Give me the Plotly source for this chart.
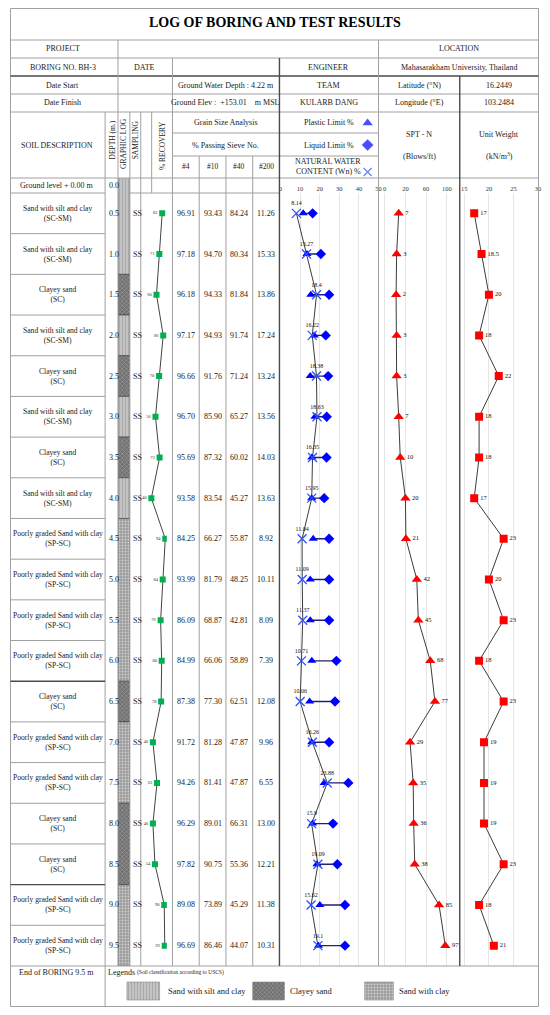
import plotly.graph_objects as go

# page body keeps the browser's 8px margin, so the figure is drawn inside it
FIG_W, FIG_H, OFF = 534, 999, 8
FONT = "Liberation Serif"


def px(x):
    return (x - OFF) / FIG_W


def py(y):
    return 1 - (y - OFF) / FIG_H


# ---- data -----------------------------------------------------------------
depth = [0.5, 1.0, 1.5, 2.0, 2.5, 3.0, 3.5, 4.0, 4.5, 5.0,
         5.5, 6.0, 6.5, 7.0, 7.5, 8.0, 8.5, 9.0, 9.5]
soil_name = ["Sand with silt and clay", "Sand with silt and clay", "Clayey sand",
             "Sand with silt and clay", "Clayey sand", "Sand with silt and clay",
             "Clayey sand", "Sand with silt and clay",
             "Poorly graded Sand with clay", "Poorly graded Sand with clay",
             "Poorly graded Sand with clay", "Poorly graded Sand with clay",
             "Clayey sand", "Poorly graded Sand with clay",
             "Poorly graded Sand with clay", "Clayey sand", "Clayey sand",
             "Poorly graded Sand with clay", "Poorly graded Sand with clay"]
soil_code = ["SC-SM", "SC-SM", "SC", "SC-SM", "SC", "SC-SM", "SC", "SC-SM",
             "SP-SC", "SP-SC", "SP-SC", "SP-SC", "SC", "SP-SC", "SP-SC",
             "SC", "SC", "SP-SC", "SP-SC"]
sampling = ["SS"] * 19
recovery = [82, 71, 60, 86, 70, 56, 72, 40, 94, 84, 76, 80, 78, 46, 62, 46, 54, 90, 92]

sieve_4 = [96.91, 97.18, 96.18, 97.17, 96.66, 96.70, 95.69, 93.58, 84.25, 93.99,
           86.09, 84.99, 87.38, 91.72, 94.26, 96.29, 97.82, 89.08, 96.69]
sieve_10 = [93.43, 94.70, 94.33, 94.93, 91.76, 85.90, 87.32, 83.54, 66.27, 81.79,
            68.87, 66.06, 77.30, 81.28, 81.41, 89.01, 90.75, 73.89, 86.46]
sieve_40 = [84.24, 80.34, 81.84, 91.74, 71.24, 65.27, 60.02, 45.27, 55.87, 48.25,
            42.81, 58.89, 62.51, 47.87, 47.87, 66.31, 55.36, 45.29, 44.07]
sieve_200 = [11.26, 15.33, 13.86, 17.24, 13.24, 13.56, 14.03, 13.63, 8.92, 10.11,
             8.09, 7.39, 12.08, 9.96, 6.55, 13.00, 12.21, 11.38, 10.31]

water_content = [8.14, 13.27, 18.4, 16.22, 18.38, 18.63, 16.35, 15.95, 11.04, 11.09,
                 11.37, 10.71, 10.06, 16.26, 23.88, 15.9, 19.09, 15.62, 19.1]
plastic_limit = [11.6, 13.5, 15.5, 17.2, 15.2, 17.6, 16.0, 15.9, 16.7, 15.2,
                 15.2, 16.0, 14.9, 15.9, 22.3, 16.4, 18.6, 20.1, 19.4]
liquid_limit = [16.4, 20.6, 24.8, 23.1, 24.3, 23.6, 23.5, 22.3, 24.8, 24.8,
                24.8, 28.5, 27.8, 24.8, 34.6, 26.8, 29.0, 32.9, 32.9]

spt_n = [7, 3, 2, 3, 3, 7, 10, 20, 21, 42, 45, 68, 77, 29, 35, 36, 38, 85, 97]
unit_weight = [17, 18.5, 20, 18, 22, 18, 18, 17, 23, 20, 23, 18, 23, 19, 19, 19, 23, 18, 21]

# graphic log layers (m)
layer_top = [0.0, 1.25, 1.75, 2.25, 2.75, 3.25, 3.75, 4.25, 6.25, 6.75, 7.75, 8.75]
layer_bottom = [1.25, 1.75, 2.25, 2.75, 3.25, 3.75, 4.25, 6.25, 6.75, 7.75, 8.75, 9.75]
layer_type = ["SC-SM", "SC", "SC-SM", "SC", "SC-SM", "SC", "SC-SM",
              "SP-SC", "SC", "SP-SC", "SC", "SP-SC"]

legend_types = ["SC-SM", "SC", "SP-SC"]
legend_labels = ["Sand with silt and clay", "Clayey sand", "Sand with clay"]

PATTERN = {
    "SC-SM": dict(shape="|", bg="#c4c4c4", fg="#a9a9a9"),
    "SC": dict(shape="x", bg="#6f6f6f", fg="#a0a0a0"),
    "SP-SC": dict(shape=".", bg="#9c9c9c", fg="#cfcfcf"),
}

# ---- geometry of the log sheet (screen px) -----------------------------------
ROW_TOP, ROW_BOT = 193, 966
ROW_H = (ROW_BOT - ROW_TOP) / len(depth)
GRID = "#a0a0a0"
DARK = "#4a4a4a"
BLUE = "#0000ff"

fig = go.Figure()

# graphic log column
fig.add_trace(go.Bar(
    x=[0.5] * len(layer_top),
    y=[b - t for t, b in zip(layer_top, layer_bottom)],
    base=layer_top, width=1,
    marker=dict(
        pattern=dict(shape=[PATTERN[t]["shape"] for t in layer_type],
                     bgcolor=[PATTERN[t]["bg"] for t in layer_type],
                     fgcolor=[PATTERN[t]["fg"] for t in layer_type],
                     size=3, solidity=0.35, fillmode="replace"),
        line=dict(color="#3a3a3a", width=0.6)),
    xaxis="x5", yaxis="y2", hoverinfo="skip"))

# legend swatches
fig.add_trace(go.Bar(
    x=[142.5, 269, 380.5], y=[18, 18, 18], base=[982, 982, 982], width=[33, 32, 29],
    marker=dict(
        pattern=dict(shape=[PATTERN[t]["shape"] for t in legend_types],
                     bgcolor=[PATTERN[t]["bg"] for t in legend_types],
                     fgcolor=[PATTERN[t]["fg"] for t in legend_types],
                     size=3, solidity=0.35, fillmode="replace"),
        line=dict(color="#888888", width=0.6)),
    xaxis="x6", yaxis="y3", hoverinfo="skip"))

# header keys for the Atterberg / water content symbols
fig.add_trace(go.Scatter(
    x=[369, 369, 369], y=[123, 145, 172], mode="markers",
    marker=dict(symbol=["triangle-up", "diamond", "x-thin"], size=[9, 9, 8],
                color=BLUE, line=dict(color="#3050ff", width=[0, 0, 1.3])),
    xaxis="x6", yaxis="y3", hoverinfo="skip"))

# % recovery
fig.add_trace(go.Scatter(
    x=recovery, y=depth, mode="lines+markers+text",
    text=[str(v) for v in recovery], textposition="middle left",
    textfont=dict(size=4.5, family=FONT, color="#333"),
    line=dict(color="#444", width=1),
    marker=dict(symbol="square", size=6, color="#00b050"),
    xaxis="x", yaxis="y"))

# natural water content line
fig.add_trace(go.Scatter(
    x=water_content, y=depth, mode="lines",
    line=dict(color="#3c3c3c", width=1), xaxis="x2", yaxis="y"))

# plastic - liquid limit bars
seg_x, seg_y = [], []
for d, pl, ll in zip(depth, plastic_limit, liquid_limit):
    seg_x += [pl, ll, None]
    seg_y += [d, d, None]
fig.add_trace(go.Scatter(
    x=seg_x, y=seg_y, mode="lines",
    line=dict(color="#22226e", width=1.4), xaxis="x2", yaxis="y"))

fig.add_trace(go.Scatter(
    x=plastic_limit, y=depth, mode="markers",
    marker=dict(symbol="triangle-up", size=8, color=BLUE),
    xaxis="x2", yaxis="y"))
fig.add_trace(go.Scatter(
    x=liquid_limit, y=depth, mode="markers",
    marker=dict(symbol="diamond", size=8, color=BLUE),
    xaxis="x2", yaxis="y"))
fig.add_trace(go.Scatter(
    x=water_content, y=depth, mode="markers+text",
    text=[str(v) for v in water_content], textposition="top center",
    textfont=dict(size=6, family=FONT, color="#111"),
    marker=dict(symbol="x-thin", size=9, line=dict(color="#3050ff", width=1.3)),
    xaxis="x2", yaxis="y"))

# SPT-N
fig.add_trace(go.Scatter(
    x=spt_n, y=depth, mode="lines+markers+text",
    text=[str(v) for v in spt_n], textposition="middle right",
    textfont=dict(size=6.5, family=FONT, color="#111"),
    line=dict(color="#3c3c3c", width=1),
    marker=dict(symbol="triangle-up", size=9, color="#ff0000"),
    xaxis="x3", yaxis="y"))

# unit weight
fig.add_trace(go.Scatter(
    x=unit_weight, y=depth, mode="lines+markers+text",
    text=[str(v) for v in unit_weight], textposition="middle right",
    textfont=dict(size=6.5, family=FONT, color="#111"),
    line=dict(color="#3c3c3c", width=1),
    marker=dict(symbol="square", size=8, color="#ff0000"),
    xaxis="x4", yaxis="y"))

# ---- table lines -------------------------------------------------------------
segments = [
    (8.5, 40, 541.5, 40, GRID), (8.5, 58, 541.5, 58, GRID), (8.5, 76, 541.5, 76, DARK),
    (8.5, 94, 541.5, 94, GRID), (8.5, 112, 541.5, 112, GRID),
    (172, 133, 380, 133, GRID), (172, 156, 380, 156, GRID),
    (8.5, 178, 541.5, 178, GRID),
    (8.5, 193, 104, 193, GRID), (129, 193, 280, 193, GRID),
    (8.5, 966, 541.5, 966, GRID),
    (117, 40, 117, 966, GRID), (172, 58, 172, 966, GRID),
    (280, 58, 280, 966, DARK), (380, 40, 380, 966, GRID), (462, 76, 462, 966, DARK),
    (104, 112, 104, 1006.5, GRID), (129, 112, 129, 966, GRID),
    (140, 112, 140, 966, GRID), (151, 112, 151, 193, GRID),
    (199, 156, 199, 966, GRID), (226, 156, 226, 966, GRID), (253, 156, 253, 966, GRID),
]
for k in range(1, len(depth)):
    yk = ROW_TOP + k * ROW_H
    segments.append((8.5, yk, 104, yk, DARK if k in (12, 17) else GRID))

shapes = [dict(type="rect", xref="paper", yref="paper",
               x0=px(8.5), x1=px(541.5), y0=py(1006.5), y1=py(8.5),
               line=dict(color=GRID, width=1))]
for x0, y0, x1, y1, col in segments:
    shapes.append(dict(type="line", xref="paper", yref="paper",
                       x0=px(x0), x1=px(x1), y0=py(y0), y1=py(y1),
                       line=dict(color=col, width=1.4 if col == DARK else 1)))

# ---- texts ------------------------------------------------------------------
annotations = []


def add_text(x, y, text, size=8, anchor="center", angle=0, color="#1a1a1a", yref="paper"):
    annotations.append(dict(
        x=px(x), y=py(y) if yref == "paper" else y, xref="paper", yref=yref,
        text=text, showarrow=False, xanchor=anchor, yanchor="middle",
        textangle=angle, font=dict(family=FONT, size=size, color=color)))


add_text(275, 23, "<b>LOG OF BORING AND TEST RESULTS</b>", size=14, color="#000")
add_text(61, 49, "PROJECT")
add_text(461, 49, "LOCATION")
add_text(61, 67, "BORING NO. BH-3")
add_text(144, 67, "DATE")
add_text(330, 67, "ENGINEER")
add_text(461, 67, "Mahasarakham University, Thailand")
add_text(61, 85, "Date Start")
add_text(226, 85, "Ground Water Depth : 4.22 m")
add_text(330, 85, "TEAM")
add_text(421, 85, "Latitude (°N)")
add_text(502, 85, "16.2449")
add_text(61, 103, "Date Finish")
add_text(226, 103, "Ground Elev :  +153.01    m MSL")
add_text(330, 103, "KULARB DANG")
add_text(421, 103, "Longitude (°E)")
add_text(502, 103, "103.2484")
add_text(55, 145, "SOIL DESCRIPTION")
add_text(110.5, 140, "DEPTH (m.)", size=7.5, angle=-90)
add_text(123, 143, "GRAPHIC LOG", size=7.5, angle=-90)
add_text(134.5, 140, "SAMPLING", size=7.5, angle=-90)
add_text(161.5, 146, "% RECOVERY", size=7.5, angle=-90)
add_text(226, 123, "Grain Size Analysis")
add_text(226, 145, "% Passing Sieve No.")
for xc, lab in zip([185.5, 212.5, 239.5, 266.5], ["#4", "#10", "#40", "#200"]):
    add_text(xc, 167, lab, size=7.5)
add_text(330, 123, "Plastic Limit %")
add_text(330, 145, "Liquid Limit %")
add_text(329, 162, "NATURAL WATER")
add_text(330, 172, "CONTENT (Wn) %")
add_text(421, 134, "SPT - N")
add_text(421, 156, "(Blows/ft)")
add_text(502, 134, "Unit Weight")
add_text(502, 156, "(kN/m<sup>3</sup>)")
add_text(55, 186, "Ground level + 0.00 m")
add_text(106, 186, "0.0", anchor="left")

for i, d in enumerate(depth):
    add_text(56, d, f"{soil_name[i]}<br>({soil_code[i]})", size=7.6, yref="y")
    add_text(105.5, d, f"{d:.1f}", anchor="left", yref="y")
    add_text(130, d, sampling[i], anchor="left", yref="y")
    for xc, col in zip([185.5, 212.5, 239.5, 266.5], [sieve_4, sieve_10, sieve_40, sieve_200]):
        add_text(xc, d, f"{col[i]:.2f}", yref="y")

add_text(55, 972, "End of BORING 9.5 m")
add_text(105, 972, "Legends", anchor="left")
add_text(134, 972.5, "(Soil classification according to USCS)", size=5.5, anchor="left")
for xl, lab in zip([165, 289, 399], legend_labels):
    add_text(xl, 991, lab, size=8.5, anchor="left")

# ---- axes -------------------------------------------------------------------
tick_font = dict(family=FONT, size=6.5, color="#333")
top_axis = dict(side="top", anchor="y", showline=False, zeroline=False, ticks="",
                tickfont=tick_font, gridcolor="#e6e6e6", gridwidth=1, fixedrange=True)
hidden = dict(visible=False, showgrid=False, zeroline=False, fixedrange=True)

fig.update_layout(
    width=FIG_W, height=FIG_H,
    margin=dict(l=0, r=0, t=0, b=0),
    paper_bgcolor="white", plot_bgcolor="rgba(0,0,0,0)",
    showlegend=False,
    shapes=shapes, annotations=annotations,
    yaxis=dict(domain=[py(ROW_BOT), py(ROW_TOP)], range=[9.75, 0.25], **hidden),
    yaxis2=dict(domain=[py(ROW_BOT), py(178)], range=[9.75, 0.25 - 0.5 * 15 / ROW_H], **hidden),
    yaxis3=dict(domain=[0, 1], range=[OFF + FIG_H, OFF], **hidden),
    xaxis=dict(domain=[px(140.3), px(166.3)], range=[0, 100], anchor="y", **hidden),
    xaxis2=dict(domain=[px(281), px(380)], range=[0, 50],
                tickvals=[0, 10, 20, 30, 40, 50], **top_axis),
    xaxis3=dict(domain=[px(380), px(462)], range=[-32, 125],
                tickvals=[-20, 20, 60, 100], ticktext=["0", "20", "60", "100"], **top_axis),
    xaxis4=dict(domain=[px(462), px(541.5)], range=[14.06, 30.1],
                tickvals=[15, 20, 25, 30], **top_axis),
    xaxis5=dict(domain=[px(117), px(129)], range=[0, 1], anchor="y2", **hidden),
    xaxis6=dict(domain=[0, 1], range=[OFF, OFF + FIG_W], anchor="y3", **hidden),
)

fig.write_html("out.html")
